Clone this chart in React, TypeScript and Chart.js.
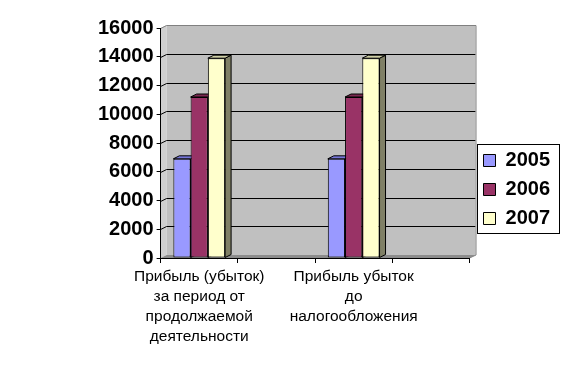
import React, { useEffect, useRef } from "react";
import { Chart, registerables } from "chart.js";
Chart.register(...registerables);

const categories: (string | string[])[] = [
  ["Прибыль (убыток)", "за период от", "продолжаемой", "деятельности"],
  "",
  ["Прибыль убыток", "до", "налогообложения"],
  "",
];
const seriesNames = ["2005", "2006", "2007"];
const values2005 = [6900, null, 6900, null];
const values2006 = [11200, null, 11200, null];
const values2007 = [13900, null, 13900, null];
const yMin = 0;
const yMax = 16000;
const yStep = 2000;

const frontColors = ["#9999FF", "#993366", "#FFFFCC"];
const topColors = ["#7676d8", "#7a2850", "#cfcfa6"];
const sideColors = ["#5c5c99", "#5c1f3d", "#808066"];

const DX = 6;
const DY = -3;
const LEGEND_GAP = 5;

const wallPlugin = {
  id: "wall3d",
  beforeLayout(chart: any) {
    const lg = chart.legend;
    if (lg && !lg.__wrapped) {
      const f = lg.fit;
      lg.fit = function (this: any) {
        f.call(this);
        this.width += LEGEND_GAP;
      };
      lg.__wrapped = true;
    }
  },
  afterLayout(chart: any) {
    const lg = chart.legend;
    if (lg) {
      lg.left += LEGEND_GAP;
    }
  },
  beforeDraw(chart: any) {
    const { ctx, chartArea: a, scales } = chart;
    const y = scales.y;
    ctx.save();
    ctx.fillStyle = "#cfcfcf";
    ctx.beginPath();
    ctx.moveTo(a.left, a.top);
    ctx.lineTo(a.left + DX, a.top + DY);
    ctx.lineTo(a.left + DX, a.bottom + DY);
    ctx.lineTo(a.left, a.bottom);
    ctx.closePath();
    ctx.fill();
    ctx.fillStyle = "#c0c0c0";
    ctx.fillRect(a.left + DX, a.top + DY, a.right - a.left, a.bottom - a.top);
    ctx.fillStyle = "#8c8c8c";
    ctx.beginPath();
    ctx.moveTo(a.left, a.bottom);
    ctx.lineTo(a.left + DX, a.bottom + DY);
    ctx.lineTo(a.right + DX, a.bottom + DY);
    ctx.lineTo(a.right, a.bottom);
    ctx.closePath();
    ctx.fill();
    ctx.strokeStyle = "#000";
    ctx.lineWidth = 1;
    for (let v = yMin + yStep; v < yMax; v += yStep) {
      const py = Math.round(y.getPixelForValue(v)) + 0.5;
      ctx.beginPath();
      ctx.moveTo(a.left, py);
      ctx.lineTo(a.left + DX, py + DY);
      ctx.lineTo(a.right + DX, py + DY);
      ctx.stroke();
    }
    ctx.strokeStyle = "#808080";
    ctx.beginPath();
    ctx.moveTo(a.left, a.top + 0.5);
    ctx.lineTo(a.left + DX, a.top + DY + 0.5);
    ctx.lineTo(a.right + DX + 0.5, a.top + DY + 0.5);
    ctx.lineTo(a.right + DX + 0.5, a.bottom + DY);
    ctx.lineTo(a.right, a.bottom);
    ctx.stroke();
    ctx.restore();
  },
  beforeDatasetsDraw(chart: any) {
    const { ctx } = chart;
    ctx.save();
    ctx.strokeStyle = "#000";
    ctx.lineWidth = 1;
    chart.data.datasets.forEach((ds: any, di: number) => {
      const meta = chart.getDatasetMeta(di);
      meta.data.forEach((bar: any, i: number) => {
        if (ds.data[i] == null) return;
        const { x, y, width, base } = bar.getProps(["x", "y", "width", "base"], true);
        const l = x - width / 2;
        const r = x + width / 2;
        ctx.fillStyle = sideColors[di];
        ctx.beginPath();
        ctx.moveTo(r, y);
        ctx.lineTo(r + DX, y + DY);
        ctx.lineTo(r + DX, base + DY);
        ctx.lineTo(r, base);
        ctx.closePath();
        ctx.fill();
        ctx.stroke();
        ctx.fillStyle = topColors[di];
        ctx.beginPath();
        ctx.moveTo(l, y);
        ctx.lineTo(l + DX, y + DY);
        ctx.lineTo(r + DX, y + DY);
        ctx.lineTo(r, y);
        ctx.closePath();
        ctx.fill();
        ctx.stroke();
      });
    });
    ctx.restore();
  },
  afterDraw(chart: any) {
    const lg = chart.legend;
    if (!lg || !lg.legendHitBoxes || !lg.legendHitBoxes.length) return;
    const hb = lg.legendHitBoxes;
    let minX = Infinity, minY = Infinity, maxX = -Infinity, maxY = -Infinity;
    hb.forEach((h: any) => {
      minX = Math.min(minX, h.left);
      minY = Math.min(minY, h.top);
      maxX = Math.max(maxX, h.left + h.width);
      maxY = Math.max(maxY, h.top + h.height);
    });
    const ctx = chart.ctx;
    ctx.save();
    ctx.strokeStyle = "#000";
    ctx.lineWidth = 1;
    ctx.strokeRect(Math.round(minX - 7) + 0.5, Math.round(minY - 7) + 0.5, Math.round(maxX - minX + 16), Math.round(maxY - minY + 11));
    ctx.restore();
  },
};

export default function App() {
  const ref = useRef<HTMLCanvasElement>(null);
  useEffect(() => {
    document.body.style.margin = "0";
    const chart = new Chart(ref.current!, {
      type: "bar",
      data: {
        labels: categories,
        datasets: [values2005, values2006, values2007].map((d, i) => ({
          label: seriesNames[i],
          data: d,
          backgroundColor: frontColors[i],
          borderColor: "#000",
          borderWidth: 1,
          borderSkipped: false,
          categoryPercentage: 0.67,
          barPercentage: 1,
        })),
      },
      options: {
        animation: false,
        responsive: false,
        maintainAspectRatio: false,
        layout: { padding: { top: 28, left: 95, right: 4, bottom: 21 } },
        plugins: {
          tooltip: { enabled: false },
          legend: {
            position: "right",
            labels: {
              boxWidth: 12,
              boxHeight: 12,
              padding: 9,
              color: "#000",
              font: { family: "'Liberation Sans', Arial, sans-serif", size: 20, weight: "bold" },
            },
          },
        },
        scales: {
          x: {
            offset: true,
            grid: { display: true, drawOnChartArea: false, drawTicks: true, tickLength: 5, color: "#000", offset: true },
            border: { display: true, color: "#000" },
            ticks: {
              autoSkip: false,
              maxRotation: 0,
              minRotation: 0,
              padding: 4,
              color: "#000",
              font: { family: "'Liberation Sans', Arial, sans-serif", size: 15.5, lineHeight: 1.29 },
            },
          },
          y: {
            min: yMin,
            max: yMax,
            grid: { display: true, drawOnChartArea: false, drawTicks: true, tickLength: 4, color: "#000" },
            border: { display: true, color: "#000" },
            ticks: {
              stepSize: yStep,
              padding: 3,
              color: "#000",
              callback: (v: any) => String(v),
              font: { family: "'Liberation Sans', Arial, sans-serif", size: 20, weight: "bold" },
            },
          },
        },
      },
      plugins: [wallPlugin],
    });
    return () => chart.destroy();
  }, []);
  return (
    <div style={{ width: 564, height: 372 }}>
      <canvas ref={ref} width={564} height={372} style={{ display: "block" }} />
    </div>
  );
}
